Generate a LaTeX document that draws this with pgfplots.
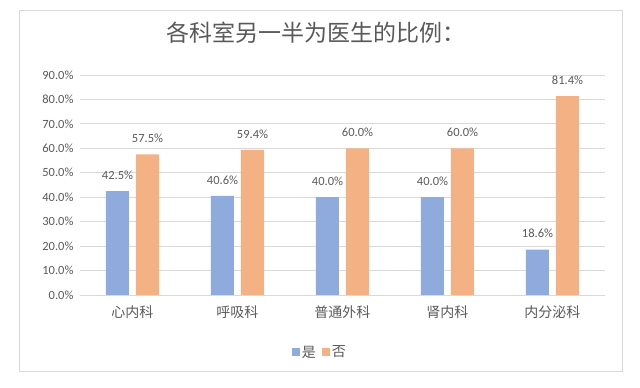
\documentclass[border=0pt]{standalone}
\usepackage{fontspec}
\usepackage{pgfplots}
\pgfplotsset{compat=1.18}
\setmainfont{Carlito}
\newfontfamily\cjk{Noto Sans CJK SC}
\definecolor{cblue}{HTML}{8FAADC}
\definecolor{corange}{HTML}{F4B183}
\definecolor{tgrey}{HTML}{595959}
\definecolor{ggrid}{HTML}{D9D9D9}
\begin{document}
\begin{tikzpicture}[x=1pt,y=1pt]
\path[use as bounding box] (0,0) rectangle (640,388);
\draw[color=ggrid, line width=0.8pt] (19,17) rectangle (622,378);
\node[text=tgrey, font=\cjk\fontsize{23}{25}\selectfont] at (316,355) {各科室另一半为医生的比例：};
\begin{axis}[
  at={(80pt,93pt)}, anchor=south west,
  scale only axis, width=525pt, height=220pt,
  ybar=7pt, bar width=23pt,
  xmin=-0.5, xmax=4.5, ymin=0, ymax=90,
  xtick={0,1,2,3,4},
  xticklabels={心内科,呼吸科,普通外科,肾内科,内分泌科},
  xticklabel style={font=\cjk\fontsize{14}{16}\selectfont, text=tgrey, yshift=-7pt},
  ytick={0,10,...,90},
  yticklabel={\pgfmathprintnumber[fixed,fixed zerofill,precision=1]{\tick}\%},
  yticklabel style={font=\fontsize{12.5}{14}\selectfont, text=tgrey, xshift=-3pt},
  /pgf/number format/assume math mode=true,
  major tick length=0pt,
  axis line style={draw=none},
  ymajorgrids, grid style={color=ggrid, line width=0.8pt},
  nodes near coords={\pgfmathprintnumber[fixed,fixed zerofill,precision=1]{\pgfplotspointmeta}\%},
  every node near coord/.append style={font=\fontsize{12.5}{14}\selectfont, text=tgrey, yshift=8pt},
  legend style={at={(0.457,-0.26)}, anchor=center, draw=none, legend columns=2,
    font=\cjk\fontsize{14}{16}\selectfont, text=tgrey,
    /tikz/every even column/.append style={column sep=4pt}},
  legend image code/.code={\fill (0pt,-4pt) rectangle (8pt,4pt);},
]
\addplot[fill=cblue, draw=none] coordinates {(0,42.5) (1,40.6) (2,40.0) (3,40.0) (4,18.6)};
\addplot[fill=corange, draw=none] coordinates {(0,57.5) (1,59.4) (2,60.0) (3,60.0) (4,81.4)};
\legend{是,否}
\end{axis}
\end{tikzpicture}
\end{document}
